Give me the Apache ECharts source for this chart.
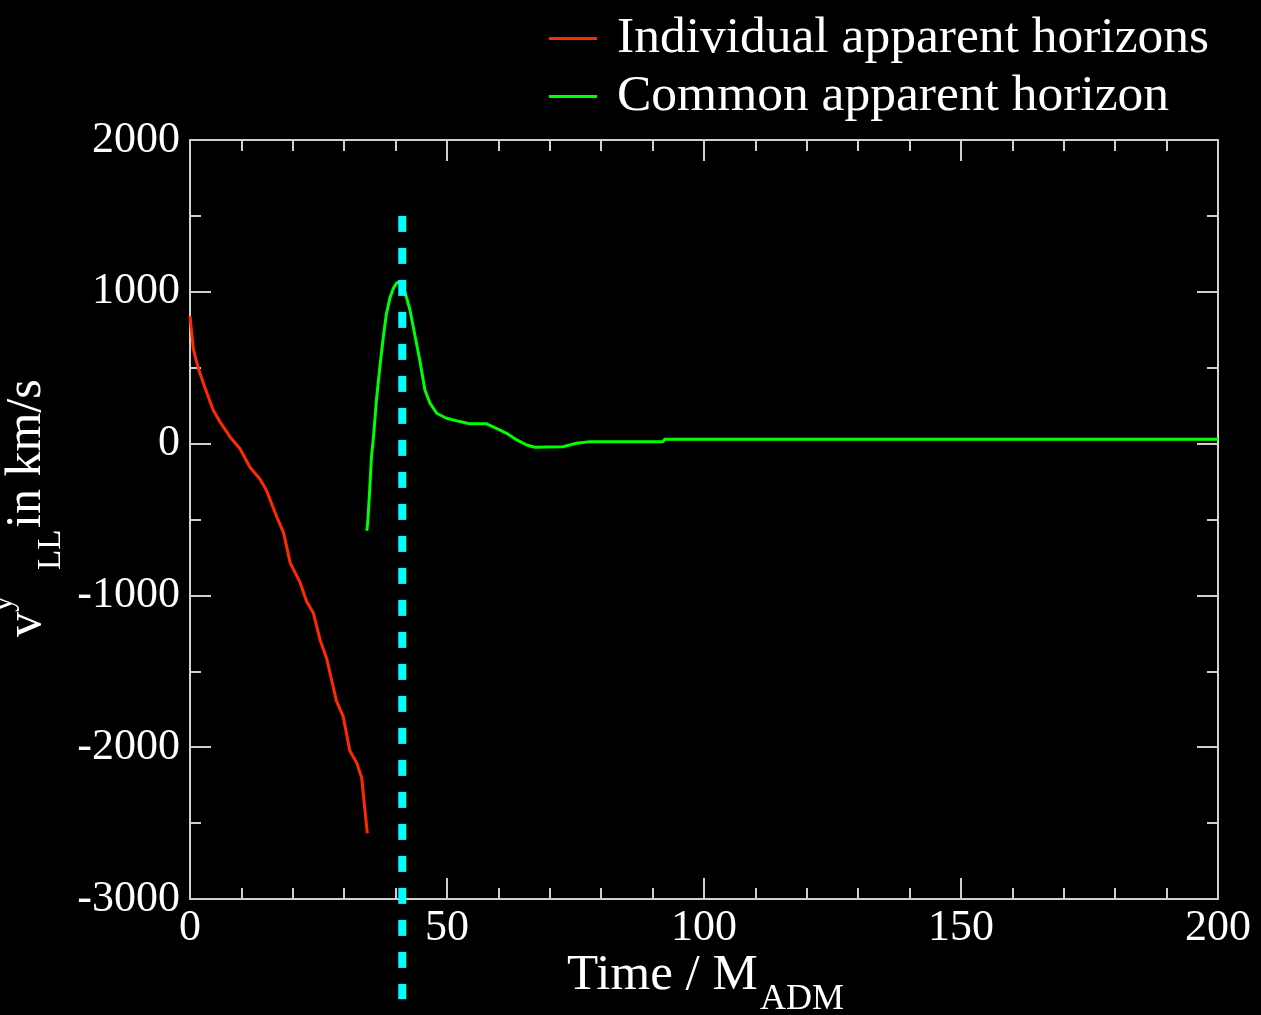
<!DOCTYPE html>
<html>
<head>
<meta charset="utf-8">
<script src="https://cdn.jsdelivr.net/npm/echarts@6/dist/echarts.min.js"></script>
<style>
html,body{margin:0;padding:0;background:#000;}
#chart{width:1261px;height:1015px;}
</style>
</head>
<body>
<div id="chart"></div>
<script>
// ---- data ----
var seriesNames = ['Individual apparent horizons', 'Common apparent horizon'];
var redT = [0, 0.65, 1.6, 2.6, 4.5, 5.8, 7.8, 9.7, 11.7, 13.6, 14.9, 16.9, 18.2, 19.5, 21.4, 22.7, 24.0, 25.3, 26.6, 28.5, 29.8, 31.1, 32.4, 33.4, 34.0, 34.5];
var redV = [840, 624, 498, 397, 221, 145, 44, -32, -157, -233, -309, -485, -586, -787, -913, -1040, -1116, -1292, -1418, -1696, -1797, -2024, -2100, -2201, -2403, -2567];
var greenT = [34.4, 34.6, 35.0, 35.3, 35.7, 36.3, 37.0, 37.6, 38.2, 38.9, 39.6, 40.2, 40.7, 41.3, 41.8, 42.8, 43.8, 44.7, 45.7, 46.7, 48.0, 49.9, 52.5, 54.5, 57.7, 59.6, 61.6, 63.6, 65.5, 67.1, 72.6, 75.2, 77.8, 92.0, 92.4, 200];
var greenV = [-574, -510, -284, -90, 44, 297, 523, 700, 852, 960, 1025, 1058, 1065, 1040, 1001, 880, 705, 551, 353, 266, 200, 167, 145, 130, 130, 101, 68, 24, -9, -24, -20, 2, 13, 13, 29, 29];
var mergerT = [41.3, 41.3];
var mergerV = [1500, -3660];
var xTicks = [0, 50, 100, 150, 200];
var yTicks = [-3000, -2000, -1000, 0, 1000, 2000];

function zip(a, b) { return a.map(function (v, i) { return [v, b[i]]; }); }

var FONT = 'Liberation Serif';
var AX = '#d0d0d0';

function xAxisCfg(pos, showLabel) {
  return {
    type: 'value', position: pos, min: xTicks[0], max: xTicks[xTicks.length - 1], interval: 50,
    axisLine: { show: true, onZero: false, lineStyle: { color: AX, width: 2 } },
    axisTick: { show: true, inside: true, length: 21, lineStyle: { color: AX, width: 2 } },
    minorTick: { show: true, splitNumber: 5, length: 11, lineStyle: { color: AX, width: 2 } },
    splitLine: { show: false },
    axisLabel: { show: showLabel, color: '#fff', fontFamily: FONT, fontSize: 44, margin: 7,
      formatter: function (v) { return String(v); } }
  };
}
function yAxisCfg(pos, showLabel) {
  return {
    type: 'value', position: pos, min: yTicks[0], max: yTicks[yTicks.length - 1], interval: 1000,
    axisLine: { show: true, onZero: false, lineStyle: { color: AX, width: 2 } },
    axisTick: { show: true, inside: true, length: 21, lineStyle: { color: AX, width: 2 } },
    minorTick: { show: true, splitNumber: 2, length: 11, lineStyle: { color: AX, width: 2 } },
    splitLine: { show: false },
    axisLabel: { show: showLabel, color: '#fff', fontFamily: FONT, fontSize: 44, margin: 10,
      formatter: function (v) { return String(v); } }
  };
}

var chart = echarts.init(document.getElementById('chart'));
chart.setOption({
  backgroundColor: '#000',
  animation: false,
  grid: { left: 190, right: 43, top: 140, bottom: 116, containLabel: false },
  legend: {
    data: seriesNames,
    orient: 'vertical', left: 549, top: 8, padding: 0,
    itemWidth: 48, itemHeight: 3, itemGap: -3, icon: 'rect',
    textStyle: { color: '#fff', fontFamily: FONT, fontSize: 51.5, lineHeight: 52, padding: [0, 0, 9, 15] }
  },
  xAxis: [xAxisCfg('bottom', true), xAxisCfg('top', false)],
  yAxis: [yAxisCfg('left', true), yAxisCfg('right', false)],
  series: [
    { name: seriesNames[0], type: 'line', data: zip(redT, redV), symbol: 'none', color: '#ff2a00',
      lineStyle: { color: '#ff2a00', width: 3 } },
    { name: seriesNames[1], type: 'line', data: zip(greenT, greenV), symbol: 'none', color: '#00ff00',
      lineStyle: { color: '#00ff00', width: 3 } },
    { name: 'merger', type: 'line', data: zip(mergerT, mergerV), symbol: 'none', clip: false, silent: true,
      lineStyle: { color: '#00ffff', width: 8, type: [16, 16], cap: 'butt' } }
  ],
  graphic: [
    { type: 'text', left: 567, top: 950, style: { text: 'Time / M', fill: '#fff', font: '51px "Liberation Serif"' } },
    { type: 'text', left: 760, top: 982, style: { text: 'ADM', fill: '#fff', font: '36px "Liberation Serif"' } },
    { type: 'group', x: 0, y: 0, rotation: Math.PI / 2, children: [
      { type: 'text', x: -637, y: 27, style: { text: 'v', fill: '#fff', font: '50px "Liberation Serif"', align: 'left', verticalAlign: 'middle' } },
      { type: 'text', x: -612, y: 3, style: { text: 'y', fill: '#fff', font: '33px "Liberation Serif"', align: 'left', verticalAlign: 'middle' } },
      { type: 'text', x: -570, y: 51, style: { text: 'LL', fill: '#fff', font: '33px "Liberation Serif"', align: 'left', verticalAlign: 'middle' } },
      { type: 'text', x: -528, y: 27, style: { text: 'in km/s', fill: '#fff', font: '50px "Liberation Serif"', align: 'left', verticalAlign: 'middle' } }
    ] }
  ]
});
</script>
</body>
</html>
